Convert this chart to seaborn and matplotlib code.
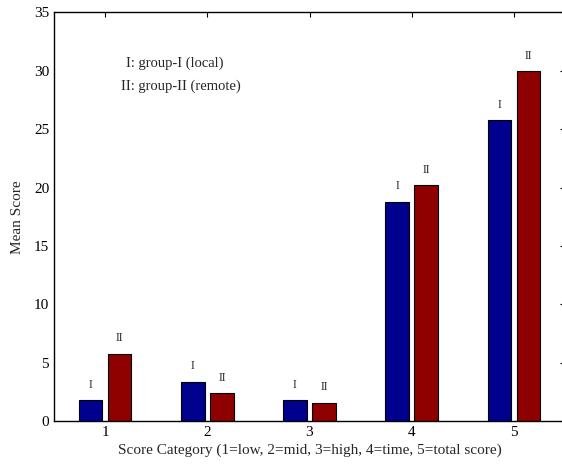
import numpy as np
import pandas as pd
import matplotlib
matplotlib.use("Agg")
import matplotlib.pyplot as plt
import seaborn as sns

# data
categories = ['1', '2', '3', '4', '5']
group_names = ['I', 'II']
group_I = [1.8, 3.4, 1.8, 18.8, 25.8]
group_II = [5.8, 2.4, 1.6, 20.2, 30.0]
legend_lines = ['I: group-I (local)', 'II: group-II (remote)']
y_ticks = [0, 5, 10, 15, 20, 25, 30, 35]

colors = ['#00008F', '#8F0000']

df = pd.DataFrame({
    'Category': categories * 2,
    'Score': group_I + group_II,
    'Group': [group_names[0]] * len(categories) + [group_names[1]] * len(categories),
})

sns.set_style('white')
plt.rcParams['font.family'] = ['Liberation Serif', 'DejaVu Serif']

fig = plt.figure(figsize=(5.62, 4.66), dpi=100)
ax = fig.add_axes([54 / 562, 44.7 / 466, 511 / 562, 409 / 466])

sns.barplot(data=df, x='Category', y='Score', hue='Group', order=categories,
            hue_order=group_names, palette=colors, saturation=1,
            width=0.57, gap=0.19, edgecolor='black', linewidth=0.8,
            errorbar=None, legend=False, ax=ax)

# small "I" / "II" labels above each bar
offset = 0.1425
for i, cat in enumerate(categories):
    ax.text(i - offset, group_I[i] + 1.3, group_names[0], ha='center', va='center', fontsize=8.5)
    ax.text(i + offset, group_II[i] + 1.3, group_names[1], ha='center', va='center', fontsize=8.5)

# legend text written inside the axes
ax.text(0.205, 30.66, legend_lines[0], ha='left', va='center', fontsize=10.5)
ax.text(0.153, 28.69, legend_lines[1], ha='left', va='center', fontsize=10.5)

ax.set_xlim(-0.5, 4.5)
ax.set_ylim(0, 35)
ax.set_yticks(y_ticks)
ax.set_xlabel('Score Category (1=low, 2=mid, 3=high, 4=time, 5=total score)', fontsize=11, labelpad=3)
ax.set_ylabel('Mean Score', fontsize=11, labelpad=7)
ax.tick_params(direction='in', top=True, right=True, length=3.5, width=0.8,
               labelsize=11, colors='black')
for s in ax.spines.values():
    s.set_visible(True)
    s.set_color('black')
    s.set_linewidth(1.0)

fig.savefig('out.png', dpi=100)
